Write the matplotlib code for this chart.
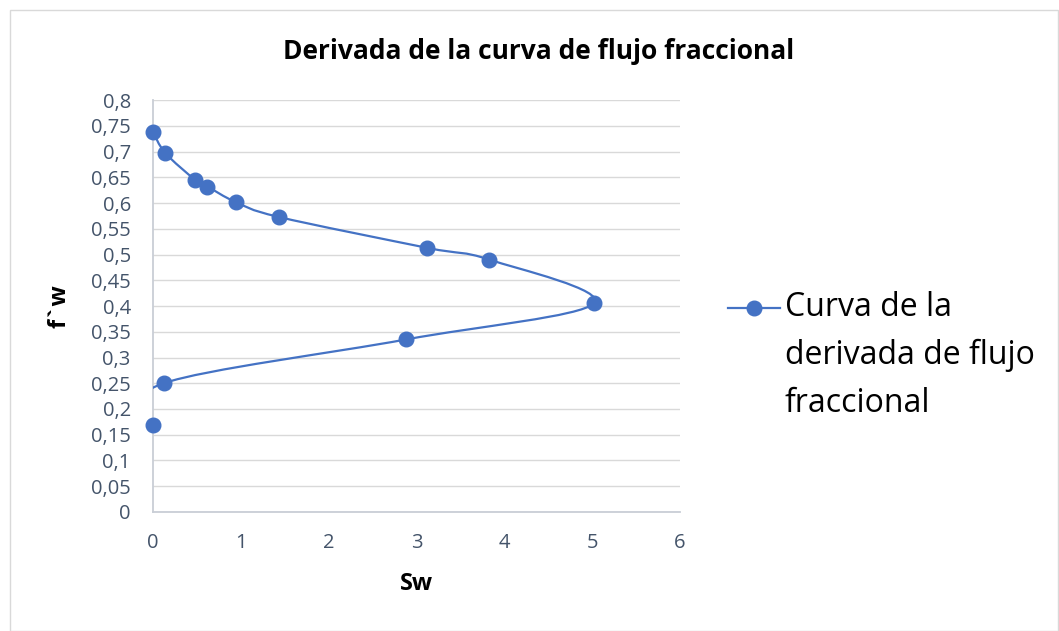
import numpy as np
import matplotlib.pyplot as plt
from matplotlib.ticker import FuncFormatter, MultipleLocator
from matplotlib.path import Path
from matplotlib.patches import PathPatch, Rectangle
from matplotlib.lines import Line2D

plt.rcParams['font.family'] = ['Open Sans', 'DejaVu Sans']

# data
sw = [0.0, 0.14, 0.48, 0.62, 0.94, 1.43, 3.12, 3.83, 5.02, 2.88, 0.12, 0.0]
fw = [0.738, 0.697, 0.645, 0.632, 0.602, 0.573, 0.513, 0.490, 0.405, 0.335, 0.250, 0.169]

title = 'Derivada de la curva de flujo fraccional'
xlabel = 'Sw'
ylabel = 'f`w'
legend_lines = ['Curva de la', 'derivada de flujo', 'fraccional']

blue = '#4472C4'
tick_col = '#44546A'


def smooth_path(x, y):
    """Excel-like smoothed line: cubic Bezier with Catmull-Rom control points."""
    p = np.column_stack([x, y])
    n = len(p)
    verts = [p[0]]
    codes = [Path.MOVETO]
    for i in range(n - 1):
        p0 = p[i - 1] if i > 0 else p[i]
        p3 = p[i + 2] if i + 2 < n else p[i + 1]
        c1 = p[i] + (p[i + 1] - p0) / 6
        c2 = p[i + 1] - (p3 - p[i]) / 6
        verts += [c1, c2, p[i + 1]]
        codes += [Path.CURVE4] * 3
    return Path(verts, codes)


fig = plt.figure(figsize=(10.59, 6.31), dpi=100)
fig.patches.append(Rectangle((0.009, 0.0), 0.99, 0.984, transform=fig.transFigure,
                             fill=False, edgecolor='#d9d9d9', lw=1))

ax = fig.add_axes([0.1445, 0.1886, 0.4975, 0.6529])
ax.set_xlim(0, 6)
ax.set_ylim(0, 0.8)
ax.yaxis.set_major_locator(MultipleLocator(0.05))
ax.xaxis.set_major_locator(MultipleLocator(1))

fmt = FuncFormatter(lambda v, pos: ('%g' % round(v, 2)).replace('.', ','))
ax.yaxis.set_major_formatter(fmt)
ax.xaxis.set_major_formatter(fmt)

ax.grid(axis='y', color='#d9d9d9', lw=1)
ax.set_axisbelow(True)
for s in ['top', 'right']:
    ax.spines[s].set_visible(False)
for s in ['left', 'bottom']:
    ax.spines[s].set_color('#c9ced6')
    ax.spines[s].set_linewidth(1.3)
ax.tick_params(length=0, labelsize=14.5, colors=tick_col)
ax.tick_params(axis='y', pad=16)
ax.tick_params(axis='x', pad=15)

ax.add_patch(PathPatch(smooth_path(sw, fw), fill=False, edgecolor=blue, lw=1.6, zorder=3))
ax.plot(sw, fw, ls='none', marker='o', ms=10.5, color=blue, mec=blue, zorder=4, clip_on=False)

ax.set_xlabel(xlabel, fontsize=17, fontweight='bold', labelpad=14)
ax.set_ylabel(ylabel, fontsize=17, fontweight='bold', labelpad=14)
fig.text(0.509, 0.918, title, fontsize=19, fontweight='bold', ha='center', va='center')

# legend drawn by hand so the marker sits on the first line of text
fig.lines.append(Line2D([0.687, 0.737], [0.512, 0.512], transform=fig.transFigure,
                        color=blue, lw=1.6))
fig.lines.append(Line2D([0.712], [0.512], transform=fig.transFigure, ls='none',
                        marker='o', ms=10.5, color=blue))
for k, line in enumerate(legend_lines):
    fig.text(0.741, 0.512 - k * 0.0755, line, fontsize=23, ha='left', va='center')

fig.savefig('out.png', dpi=100)
